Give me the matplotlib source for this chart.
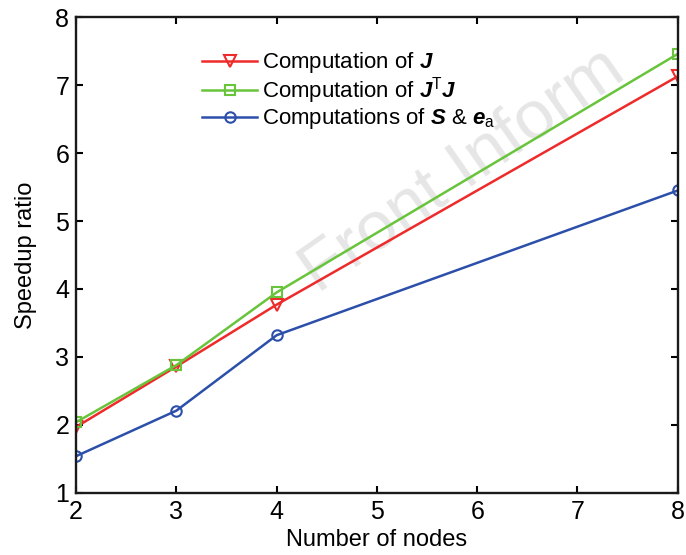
import matplotlib
matplotlib.use("Agg")
import matplotlib.pyplot as plt

nodes = [2, 3, 4, 8]
speed_J = [1.97, 2.86, 3.77, 7.13]
speed_JTJ = [2.04, 2.88, 3.95, 7.46]
speed_S = [1.54, 2.21, 3.32, 5.45]
labels = [r"Computation of $\mathbfit{J}$",
          r"Computation of $\mathbfit{J}^{\mathrm{T}}\mathbfit{J}$",
          r"Computations of $\mathbfit{S}$ & $\mathbfit{e}_{\mathrm{a}}$"]

plt.rcParams['font.family'] = ['Liberation Sans', 'DejaVu Sans']
plt.rcParams['mathtext.fontset'] = 'custom'
plt.rcParams['mathtext.rm'] = 'Liberation Sans'
plt.rcParams['mathtext.it'] = 'Liberation Sans:italic'
plt.rcParams['mathtext.bf'] = 'Liberation Sans:bold'
try:
    plt.rcParams['mathtext.bfit'] = 'Liberation Sans:bold:italic'
except KeyError:
    pass

fig = plt.figure(figsize=(6.86, 5.55), dpi=100)
ax = fig.add_axes([0.111, 0.112, 0.877, 0.857])

red = '#ee2a2a'
green = '#68c43a'
blue = '#2c50aa'

ax.plot(nodes, speed_J, color=red, lw=1.8, marker='v', ms=8, mfc='none', mew=1.5, label=labels[0])
ax.plot(nodes, speed_JTJ, color=green, lw=1.8, marker='s', ms=7.5, mfc='none', mew=1.5, label=labels[1])
ax.plot(nodes, speed_S, color=blue, lw=1.8, marker='o', ms=7.5, mfc='none', mew=1.5, label=labels[2])

ax.set_xlim(2, 8)
ax.set_ylim(1, 8)
ax.set_xticks([2, 3, 4, 5, 6, 7, 8])
ax.set_yticks([1, 2, 3, 4, 5, 6, 7, 8])
ax.tick_params(direction='in', top=True, right=True, length=5, width=1.5, labelsize=18, colors='black', pad=5)
for s in ax.spines.values():
    s.set_linewidth(1.7)
    s.set_color('#1a1a1a')
ax.set_xlabel("Number of nodes", fontsize=17, labelpad=4)
ax.set_ylabel("Speedup ratio", fontsize=17, labelpad=13)

leg = ax.legend(loc='upper left', bbox_to_anchor=(0.209, 0.93), frameon=False, fontsize=16,
                handlelength=2.5, handletextpad=0.2, labelspacing=0.0, borderaxespad=0, borderpad=0)

ax.text(5.85, 5.75, "Front Inform", fontsize=50, color='#e6e6e6', rotation=35,
        ha='center', va='center', zorder=0)

fig.savefig("out.png", dpi=100)
